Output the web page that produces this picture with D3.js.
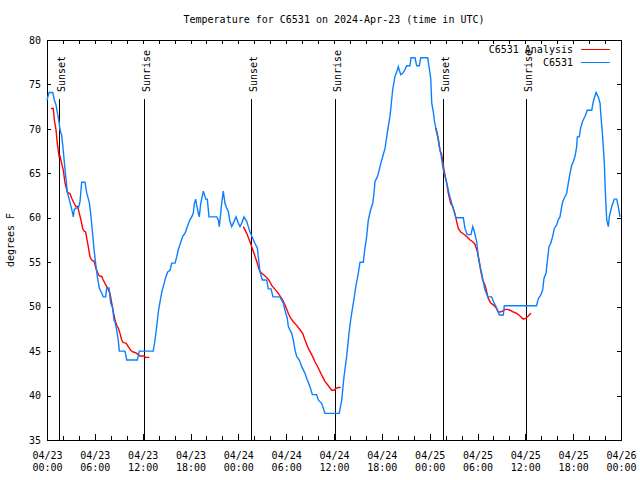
<!DOCTYPE html>
<html>
<head>
<meta charset="utf-8">
<script src="https://cdn.jsdelivr.net/npm/d3@7/dist/d3.min.js"></script>
<style>
  html, body { margin: 0; padding: 0; background: #fff; }
  svg text { font-family: "DejaVu Sans Mono", "Liberation Mono", monospace; font-size: 10px; fill: #000; }
</style>
</head>
<body>
<svg id="chart" width="640" height="480"></svg>
<script>
// ---- data (hours since 2024-04-23 00:00 UTC, degrees F) ----
const chartTitle = "Temperature for C6531 on 2024-Apr-23 (time in UTC)";
const yLabel = "degrees F";
const seriesNames = ["C6531 Analysis", "C6531"];
const yTickValues = [35, 40, 45, 50, 55, 60, 65, 70, 75, 80];
const xMajorHours = [0, 6, 12, 18, 24, 30, 36, 42, 48, 54, 60, 66, 72];

const sunEvents = [
  ["Sunset", 1.55], ["Sunrise", 12.21], ["Sunset", 25.63],
  ["Sunrise", 36.16], ["Sunset", 49.71], ["Sunrise", 60.12]
];

const observed = [
  [0,73.2],[0.25,74.1],[0.72,74.1],[0.92,73.25],[1.13,72.7],[1.29,71.9],[1.51,70.8],[1.63,69.9],
  [1.84,69.3],[1.97,68.2],[2.13,66.7],[2.26,65.4],[2.38,64.4],[2.55,62.9],[2.89,61.7],[3.17,60.7],
  [3.30,60.1],[3.42,60.9],[3.60,61.1],[3.93,61.1],[4.14,61.8],[4.35,64],[4.77,64],[4.98,62.8],
  [5.31,61.7],[5.48,60.5],[5.68,58.6],[5.93,56.2],[6.15,54.5],[6.31,53.4],[6.56,52.1],[6.86,51.5],
  [7.06,51.1],[7.36,51.1],[7.49,52.1],[7.78,52.1],[7.99,50.4],[8.24,49.85],[8.40,48.5],[8.53,48.3],
  [8.74,47.4],[8.94,46.25],[9.07,45],[9.78,45],[10.0,44],[11.33,44],[11.58,45],[13.33,45],
  [13.55,46.25],[13.76,47.75],[13.96,49.4],[14.17,50.5],[14.39,51.6],[14.68,52.6],[14.93,53.4],
  [15.14,53.9],[15.43,54.1],[15.64,54.9],[16.06,54.9],[16.27,55.6],[16.47,56.4],[16.68,57],
  [17.02,57.9],[17.31,58.25],[17.60,59],[17.94,59.8],[18.15,60.1],[18.35,60.5],[18.48,61.6],
  [18.65,62.1],[18.78,61.4],[18.98,60.5],[19.10,60.1],[19.28,61.6],[19.61,63],[19.91,62.1],
  [20.11,62.1],[20.32,60.1],[21.29,60.1],[21.49,59.75],[21.61,59],[21.79,60.5],[21.91,61.6],
  [22.11,63],[22.33,61.6],[22.54,61.1],[22.74,60.7],[22.95,59.6],[23.17,59],[23.37,59.4],
  [23.71,60.1],[24.0,59.4],[24.21,59],[24.42,59.4],[24.71,60.1],[25.05,59.6],[25.25,59],
  [25.46,58.4],[25.80,57.7],[26.09,57.1],[26.38,56.6],[26.55,55.25],[26.72,53.9],[27.01,53],
  [27.56,53],[27.76,52],[28.10,52],[28.35,51.1],[29.21,51.1],[29.64,50.4],[29.85,49.6],
  [30.14,48.7],[30.27,47.75],[30.69,47],[30.90,46.25],[31.11,45.1],[31.32,44.4],[31.65,44],
  [31.95,43.25],[32.36,42.5],[32.65,41.75],[32.99,41],[33.28,40.1],[33.83,40.1],[34.03,39.5],
  [34.46,39.1],[34.87,38],[36.66,38],[36.97,39.5],[37.25,42.1],[37.59,44.4],[37.88,47],
  [38.09,48.5],[38.35,50],[38.55,51.1],[38.76,52.4],[39.05,53.75],[39.26,55],[39.68,55],
  [39.85,56.4],[40.10,57.9],[40.30,59.75],[40.60,60.9],[40.85,61.6],[41.02,62.75],[41.14,64.1],
  [41.43,64.6],[41.68,65.4],[41.86,66.1],[42.11,66.9],[42.40,67.8],[42.61,69.1],[42.81,70.25],
  [43.02,71.4],[43.15,72.5],[43.36,74.4],[43.65,75.9],[43.86,76.4],[44.07,77],[44.19,76.6],
  [44.37,76.1],[44.62,76.25],[44.91,76.7],[45.12,77.1],[45.53,77.1],[45.66,78],[46.16,78],
  [46.37,77.1],[46.70,77.1],[46.88,78],[47.75,78],[47.95,76.8],[48.13,75.7],[48.26,72.9],
  [48.46,71.9],[48.58,71],[48.80,69.9],[49.01,69.1],[49.21,68],[49.42,67.1],[49.71,65.4],
  [50.14,63.9],[50.47,62.6],[50.77,61.6],[50.97,61],[51.31,60],[52.22,60],[52.43,58.8],
  [52.72,58.1],[53.19,58.1],[53.40,59],[53.56,58.6],[53.69,58.1],[53.90,57.3],[54.10,55.6],
  [54.31,54.5],[54.53,53.75],[54.73,52.8],[54.94,51.9],[55.28,51.1],[55.78,51.1],[55.98,50.6],
  [56.32,50],[56.61,49.4],[56.73,49.06],[57.24,49.06],[57.36,50.1],[61.40,50.1],[61.63,50.9],
  [61.93,51.3],[62.18,51.9],[62.34,53.2],[62.59,53.75],[62.76,55.1],[62.97,56.75],[63.18,57.1],
  [63.43,57.9],[63.63,58.8],[63.93,59.2],[64.14,59.8],[64.35,60.1],[64.56,61.25],[64.69,61.8],
  [64.98,62.4],[65.19,62.75],[65.39,63.9],[65.60,65],[65.82,65.9],[66.02,66.3],[66.23,66.9],
  [66.44,68],[66.52,69.1],[66.77,69.1],[66.94,70.1],[67.20,70.9],[67.48,71.4],[67.77,72.1],
  [68.33,72.1],[68.53,73.1],[68.87,74.1],[69.15,73.6],[69.37,72.9],[69.49,71.4],[69.70,69.1],
  [69.91,66.1],[70.03,63.1],[70.12,61.25],[70.21,59.75],[70.41,59],[70.53,60.1],[70.83,61.25],
  [71.16,62.1],[71.46,62.1],[71.66,61.25],[71.87,60.1]
];

const analysisNight1 = [
  [0.50,72.3],[0.79,72.3],[0.92,71],[1.13,69.9],[1.29,68.4],[1.51,66.9],[1.63,66.95],[1.84,66.1],
  [2.04,65.4],[2.26,63.9],[2.55,62.9],[2.89,62.7],[3.10,62.2],[3.30,61.8],[3.60,61.3],[3.85,61.25],
  [4.05,60.5],[4.26,59.75],[4.48,58.8],[4.64,58.5],[4.85,58.4],[4.98,57.7],[5.18,56.75],[5.39,55.6],
  [5.61,55.25],[5.90,55.1],[6.15,54.3],[6.31,53.9],[6.56,53.45],[6.86,53.4],[7.06,53],[7.28,52.6],
  [7.49,52.25],[7.69,51.9],[7.90,51.5],[8.12,50.4],[8.32,49.4],[8.53,48.5],[8.74,47.9],[8.94,47.6],
  [9.16,47],[9.37,46.25],[9.57,45.95],[9.91,45.9],[10.20,45.5],[10.50,45.1],[10.83,44.9],
  [11.16,44.8],[11.45,44.6],[11.67,44.45],[12.08,44.45],[12.38,44.3],[12.83,44.3]
];
const analysisNight2 = [
  [24.62,59],[25.05,58.25],[25.38,57.5],[25.68,56.75],[25.97,56],[26.30,55.1],[26.63,54.1],
  [26.93,53.75],[27.35,53.45],[27.76,53.1],[28.19,52.4],[28.60,51.95],[29.01,51.5],[29.31,51.1],
  [29.64,50.6],[29.98,49.9],[30.27,49.25],[30.57,48.7],[30.90,48.3],[31.32,47.9],[31.74,47.4],
  [32.07,47],[32.36,46.25],[32.78,45.3],[33.20,44.6],[33.62,43.8],[34.03,43.1],[34.46,42.3],
  [34.87,41.6],[35.29,41.1],[35.71,40.6],[36.0,40.6],[36.25,40.8],[36.54,40.9],[36.84,40.9]
];
const analysisNight3 = [
  [48.80,70.1],[49.08,68.9],[49.30,67.6],[49.51,67.1],[49.71,65.9],[49.92,64.8],[50.14,63.9],
  [50.34,62.75],[50.64,61.6],[50.89,61.25],[51.09,60.7],[51.30,59.9],[51.59,58.8],[51.89,58.4],
  [52.22,58.2],[52.56,57.95],[52.85,57.7],[53.06,57.5],[53.40,57.3],[53.69,57],[53.98,56.2],
  [54.23,55.1],[54.44,53.9],[54.65,53],[54.94,52.4],[55.15,51.7],[55.36,50.9],[55.66,50.4],
  [55.98,50.2],[56.32,49.9],[56.61,49.4],[56.82,49.4],[57.16,49.5],[57.45,49.7],[57.74,49.7],
  [58.08,49.6],[58.49,49.4],[58.92,49.25],[59.33,48.95],[59.75,48.6],[60.08,48.7],[60.37,48.95],
  [60.71,49.25]
];
const analysisSegments = [analysisNight1, analysisNight2, analysisNight3];

// ---- layout ----
const startMs = Date.UTC(2024, 3, 23, 0, 0);
const toDate = h => new Date(startMs + h * 3600e3);

const svg = d3.select("#chart");
const M = { left: 47, right: 621, top: 40, bottom: 440 };
const blue = "#0a80ff", red = "#ff0000";

const x = d3.scaleUtc().domain([toDate(0), toDate(72)]).range([M.left, M.right]);
const y = d3.scaleLinear().domain([35, 80]).range([M.bottom, M.top]);

const fmtDay = d3.utcFormat("%m/%d"), fmtTime = d3.utcFormat("%H:%M");
const minorTicks = d3.range(0, 73, 2).map(toDate);

// bottom axis
const gB = svg.append("g").attr("transform", `translate(0,${M.bottom})`)
  .call(d3.axisBottom(x).tickValues(minorTicks).tickSizeInner(-4).tickSizeOuter(0).tickFormat(""));
gB.selectAll(".tick text").remove();
const gBL = svg.append("g").attr("transform", `translate(0,${M.bottom})`)
  .call(d3.axisBottom(x).tickValues(xMajorHours.map(toDate)).tickSizeInner(-6).tickSizeOuter(0).tickFormat(""));
gBL.selectAll(".tick").each(function(d) {
  const t = d3.select(this).select("text").attr("y", null).attr("dy", null);
  t.append("tspan").attr("x", 0).attr("y", 18.5).text(fmtDay(d));
  t.append("tspan").attr("x", 0).attr("y", 30.5).text(fmtTime(d));
});
// top axis
svg.append("g").attr("transform", `translate(0,${M.top})`)
  .call(d3.axisTop(x).tickValues(minorTicks).tickSizeInner(-4).tickSizeOuter(0).tickFormat(""));
// left axis
svg.append("g").attr("transform", `translate(${M.left},0)`)
  .call(d3.axisLeft(y).tickValues(yTickValues).tickSizeInner(-4).tickSizeOuter(0).tickPadding(6).tickFormat(d3.format("d")));
// right axis
svg.append("g").attr("transform", `translate(${M.right},0)`)
  .call(d3.axisRight(y).tickValues(yTickValues).tickSizeInner(-4).tickSizeOuter(0).tickFormat(""));

svg.selectAll(".domain").remove();
svg.selectAll(".tick line").attr("stroke", "#000").attr("shape-rendering", "crispEdges");
svg.selectAll(".tick text").style("font-family", '"DejaVu Sans Mono", monospace').style("font-size", "10px").attr("fill", "#000");

// border
svg.append("rect").attr("x", M.left + 0.5).attr("y", M.top + 0.5)
  .attr("width", M.right - M.left).attr("height", M.bottom - M.top)
  .attr("fill", "none").attr("stroke", "#000").attr("shape-rendering", "crispEdges");

// sunrise / sunset markers
const ev = svg.append("g");
sunEvents.forEach(([label, h]) => {
  const xp = Math.round(x(toDate(h))) + 0.5;
  ev.append("line").attr("x1", xp).attr("x2", xp).attr("y1", M.bottom).attr("y2", M.top + 59)
    .attr("stroke", "#000").attr("stroke-width", 1);
  ev.append("text").attr("transform", `translate(${xp + 5},${M.top + 52}) rotate(-90)`)
    .attr("text-anchor", "start").text(label);
});

// lines
const line = d3.line().x(d => x(toDate(d[0]))).y(d => y(d[1]));
analysisSegments.forEach(seg => {
  svg.append("path").datum(seg).attr("d", line).attr("fill", "none").attr("stroke", red).attr("stroke-width", 1.4);
});
svg.append("path").datum(observed).attr("d", line).attr("fill", "none").attr("stroke", blue).attr("stroke-width", 1.4);

// legend
const legendColors = [red, blue];
seriesNames.forEach((name, i) => {
  const ly = 49.5 + i * 13;
  svg.append("text").attr("x", 573).attr("y", ly + 3.5).attr("text-anchor", "end").text(name);
  svg.append("line").attr("x1", 581).attr("x2", 610).attr("y1", ly).attr("y2", ly)
    .attr("stroke", legendColors[i]).attr("stroke-width", 1);
});

// title & y label
svg.append("text").attr("x", 334).attr("y", 23).attr("text-anchor", "middle").text(chartTitle);
svg.append("text").attr("transform", "translate(13.5,240) rotate(-90)").attr("text-anchor", "middle").text(yLabel);
</script>
</body>
</html>
